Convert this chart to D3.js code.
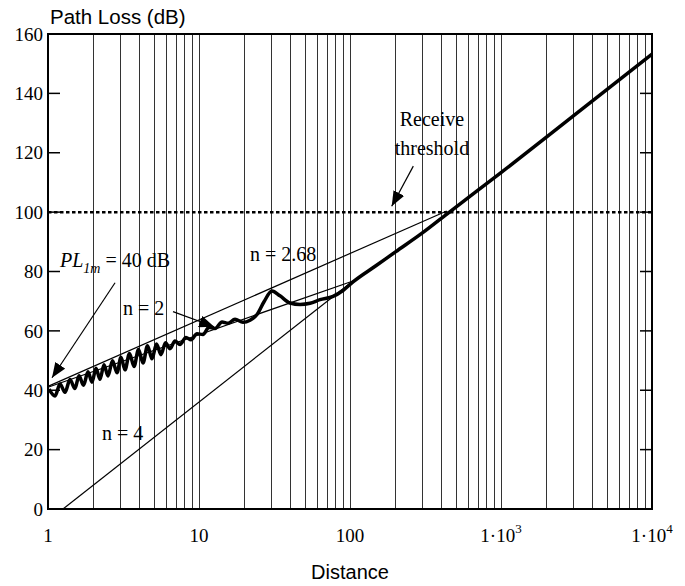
<!DOCTYPE html>
<html>
<head>
<meta charset="utf-8">
<script src="https://cdn.jsdelivr.net/npm/d3@7"></script>
<style>
body { margin: 0; background: #fff; }
svg { display: block; }
.serif { font-family: "Liberation Serif", "Times New Roman", serif; }
.sans { font-family: "Liberation Sans", Arial, sans-serif; }
</style>
</head>
<body>
<svg id="chart" width="685" height="586"></svg>
<script>
// path loss against distance, two-ray picture with the fitted lines

const distanceTicks = [1, 10, 100, 1000, 10000];
const distanceLabels = [["1", ""], ["10", ""], ["100", ""], ["1·10", "3"], ["1·10", "4"]];
const lossTicks = [0, 20, 40, 60, 80, 100, 120, 140, 160];

// [distance, path loss dB]
const twoRay = [
	[1.015, 40.4], [1.113, 38.1], [1.201, 42.1], [1.296, 39.3], [1.398, 43.6], [1.509, 40.6],
	[1.604, 44.9], [1.718, 41.7], [1.841, 46.2], [1.956, 42.7], [2.079, 47.4], [2.210, 43.7],
	[2.349, 48.6], [2.496, 44.8], [2.674, 49.9], [2.864, 45.9], [3.044, 51.1], [3.236, 46.9],
	[3.465, 52.4], [3.712, 48.0], [3.975, 53.7], [4.258, 49.2], [4.560, 55.0], [4.884, 50.6],
	[5.231, 55.6], [5.602, 52.0], [6.000, 56.0], [6.427, 54.0], [6.935, 56.6], [7.483, 55.4],
	[8.201, 57.8], [8.851, 57.0], [9.700, 59.0], [10.63, 58.8], [11.65, 61.2], [12.76, 60.8],
	[14.21, 63.0], [15.56, 62.6], [17.32, 63.9], [19.56, 62.9], [21.77, 63.6], [24.22, 65.5],
	[26.95, 69.8], [30.44, 73.4], [34.39, 71.8], [40.06, 69.4], [46.67, 68.9], [54.34, 69.3],
	[63.29, 70.5], [77.17, 71.6], [89.87, 73.6], [104.7, 76.5], [150, 82.1], [200, 86.6],
	[300, 92.9], [460, 100.2], [1000, 113.3], [3000, 132.3], [10000, 153.2]
];

const lineN2 = [[1, 41.0], [104.7, 76.8]];
const lineN268 = [[1, 41.3], [437, 100.4]];
const lineN4 = [[1.257, 0], [104.7, 76.8]];
const threshold = [[1, 100], [10000, 100]];

// annotation leaders, in data units
const arrows = [
	[[2.78, 76.2], [1.063, 44.2]],
	[[6.73, 66.5], [12.6, 61.4]],
	[[262.6, 115.5], [188.9, 102.0]]
];
const notes = [
	{ at: [3.14, 65.5], text: "n = 2" },
	{ at: [21.8, 83.4], text: "n = 2.68" },
	{ at: [2.28, 23.3], text: "n = 4" }
];

const W = 685, H = 586;
const margin = { top: 34, right: 33, bottom: 77, left: 48 };

const svg = d3.select("#chart");

const x = d3.scaleLog().domain([1, 10000]).range([margin.left, W - margin.right]);
const y = d3.scaleLinear().domain([0, 160]).range([H - margin.bottom, margin.top]);

// vertical grid on every log tick
svg.append("g").selectAll("line").data(x.ticks()).enter().append("line")
	.attr("x1", d => Math.round(x(d)) + 0.5).attr("x2", d => Math.round(x(d)) + 0.5)
	.attr("y1", y(0)).attr("y2", y(160))
	.attr("stroke", "#333").attr("stroke-width", 1);

// short inward ticks on both sides
const inner = lossTicks.slice(1, -1);
svg.append("g").selectAll("line").data(inner).enter().append("line")
	.attr("x1", x(1)).attr("x2", x(1) + 12)
	.attr("y1", d => y(d)).attr("y2", d => y(d))
	.attr("stroke", "#000").attr("stroke-width", 1.5);
svg.append("g").selectAll("line").data(inner).enter().append("line")
	.attr("x1", x(10000) - 12).attr("x2", x(10000))
	.attr("y1", d => y(d)).attr("y2", d => y(d))
	.attr("stroke", "#000").attr("stroke-width", 1.5);

// frame
svg.append("rect")
	.attr("x", x(1)).attr("y", y(160))
	.attr("width", x(10000) - x(1)).attr("height", y(0) - y(160))
	.attr("fill", "none").attr("stroke", "#000").attr("stroke-width", 2);

// tick labels
svg.append("g").selectAll("text").data(lossTicks).enter().append("text")
	.attr("class", "serif")
	.attr("x", x(1) - 5).attr("y", d => y(d)).attr("dy", "0.35em")
	.attr("text-anchor", "end").attr("font-size", 19)
	.text(d => d);

const xl = svg.append("g").selectAll("text").data(distanceTicks).enter().append("text")
	.attr("class", "serif")
	.attr("x", d => x(d)).attr("y", 542)
	.attr("text-anchor", "middle").attr("font-size", 19);
xl.append("tspan").text((d, i) => distanceLabels[i][0]);
xl.append("tspan").attr("dy", -9).attr("font-size", 13).text((d, i) => distanceLabels[i][1]);

// titles
svg.append("text").attr("class", "sans").attr("x", 50).attr("y", 24)
	.attr("font-size", 20.5).text("Path Loss (dB)");
svg.append("text").attr("class", "sans").attr("x", (x(1) + x(10000)) / 2).attr("y", 579)
	.attr("text-anchor", "middle").attr("font-size", 20).text("Distance");

const line = d3.line().x(d => x(d[0])).y(d => y(d[1]));

[lineN2, lineN268, lineN4].forEach(l => {
	svg.append("path").datum(l).attr("d", line)
		.attr("fill", "none").attr("stroke", "#000").attr("stroke-width", 1.2);
});

svg.append("path").datum(threshold).attr("d", line)
	.attr("fill", "none").attr("stroke", "#000").attr("stroke-width", 2.5)
	.attr("stroke-dasharray", "3.5,2.5");

svg.append("path").datum(twoRay).attr("d", line.curve(d3.curveMonotoneX))
	.attr("fill", "none").attr("stroke", "#000").attr("stroke-width", 3.5)
	.attr("stroke-linejoin", "round");

// arrowheads
svg.append("defs").append("marker")
	.attr("id", "head").attr("markerUnits", "userSpaceOnUse")
	.attr("markerWidth", 16).attr("markerHeight", 12)
	.attr("refX", 15).attr("refY", 6).attr("orient", "auto")
	.append("path").attr("d", "M0,0 L15,6 L0,12 Z").attr("fill", "#000");

const straight = d3.line().x(d => x(d[0])).y(d => y(d[1]));
svg.append("g").selectAll("path").data(arrows).enter().append("path")
	.attr("d", straight)
	.attr("fill", "none").attr("stroke", "#000").attr("stroke-width", 1.2)
	.attr("marker-end", "url(#head)");

// labels
svg.append("g").selectAll("text").data(notes).enter().append("text")
	.attr("class", "serif")
	.attr("x", d => x(d.at[0])).attr("y", d => y(d.at[1]))
	.attr("font-size", 20).text(d => d.text);

const pl = svg.append("text").attr("class", "serif")
	.attr("x", x(1.2)).attr("y", y(81.4)).attr("font-size", 20);
pl.append("tspan").attr("font-style", "italic").text("PL");
pl.append("tspan").attr("font-style", "italic").attr("font-size", 14).attr("dy", 6).text("1m");
pl.append("tspan").attr("dy", -6).text(" = 40 dB");

svg.append("text").attr("class", "serif")
	.attr("x", x(349)).attr("y", y(128.9)).attr("text-anchor", "middle")
	.attr("font-size", 20).text("Receive");
svg.append("text").attr("class", "serif")
	.attr("x", x(349)).attr("y", y(119.2)).attr("text-anchor", "middle")
	.attr("font-size", 20).text("threshold");
</script>
</body>
</html>
